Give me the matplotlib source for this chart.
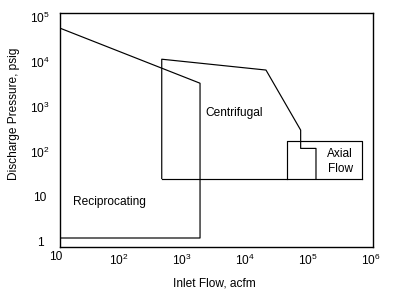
import matplotlib
matplotlib.use('Agg')
import matplotlib.pyplot as plt

plt.rcParams['font.family'] = ['Liberation Sans', 'DejaVu Sans']
plt.rcParams['mathtext.fontset'] = 'custom'
plt.rcParams['mathtext.rm'] = 'Liberation Sans'
plt.rcParams['mathtext.it'] = 'Liberation Sans'

# region outlines (inlet flow acfm, discharge pressure psig)
recip_flow = [11.6, 1950, 1950, 11.6]
recip_press = [46000, 2750, 1, 1]

centri_flow = [480, 480, 480, 21800, 77600, 77600, 136000, 136000]
centri_press = [21, 9400, 9400, 5400, 250, 98, 98, 21]
centri_base_flow = [480, 724000]
centri_base_press = [21, 21]

axial_flow = [47500, 47500, 724000, 724000]
axial_press = [21, 145, 145, 21]

x_ticks = [1e2, 1e3, 1e4, 1e5, 1e6]
x_tick_labels = ['$10^{2}$', '$10^{3}$', '$10^{4}$', '$10^{5}$', '$10^{6}$']
y_ticks = [1, 10, 1e2, 1e3, 1e4, 1e5]
y_tick_labels = ['1', '10', '$10^{2}$', '$10^{3}$', '$10^{4}$', '$10^{5}$']

fs = 8.6
fig = plt.figure(figsize=(3.95, 2.99), dpi=100)
ax = fig.add_axes([60 / 395, 1 - 247 / 299, 313 / 395, 234 / 299])
ax.set_xscale('log')
ax.set_yscale('log')
ax.set_xlim(10 ** 1.0636, 10 ** 6.04)
ax.set_ylim(10 ** -0.2, 1e5)

lw = 0.85
ax.plot(recip_flow, recip_press, color='black', lw=lw)
ax.plot(centri_flow, centri_press, color='black', lw=lw)
ax.plot(centri_base_flow, centri_base_press, color='black', lw=lw)
ax.plot(axial_flow, axial_press, color='black', lw=lw)

ax.set_xticks([])
ax.set_yticks([])
ax.minorticks_off()
ax.tick_params(which='both', length=0)
for s in ax.spines.values():
    s.set_linewidth(1.0)

# tick labels placed by hand like the original
xt = ax.get_xaxis_transform()
for v, t in zip(x_ticks, x_tick_labels):
    ax.text(v, -13 / 234, t, transform=xt, ha='center', va='center',
            fontsize=fs, clip_on=False)
ax.text(10, -10 / 234, '10', transform=xt, ha='center', va='center',
        fontsize=fs, clip_on=False)

yt = ax.get_yaxis_transform()
for v, t in zip(y_ticks, y_tick_labels):
    ax.text(-20 / 313, v * 10 ** (-5 / 45), t, transform=yt, ha='center',
            va='center', fontsize=fs, clip_on=False)

ax.text(10 ** 1.27, 10 ** 0.8, 'Reciprocating', fontsize=fs, ha='left', va='center')
ax.text(10 ** 3.83, 10 ** 2.78, 'Centrifugal', fontsize=fs, ha='center', va='center')
ax.text(10 ** 5.52, 10 ** 1.7, 'Axial\nFlow', fontsize=fs, ha='center',
        va='center', linespacing=1.3)

fig.text(214 / 395, 1 - 283 / 299, 'Inlet Flow, acfm', ha='center',
         va='center', fontsize=fs)
fig.text(14 / 395, 1 - 114 / 299, 'Discharge Pressure, psig', ha='center',
         va='center', rotation=90, fontsize=fs)

fig.savefig('out.png', dpi=100)
